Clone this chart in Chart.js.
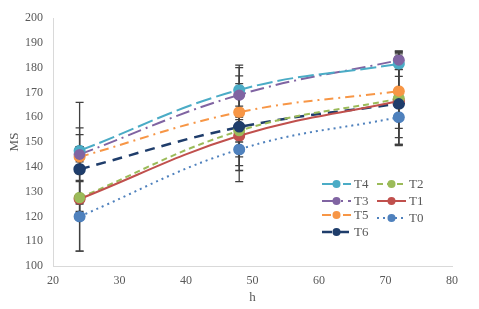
<!DOCTYPE html>
<html>
<head>
<meta charset="utf-8">
<script src="https://cdn.jsdelivr.net/npm/chart.js@4.4.1/dist/chart.umd.min.js"></script>
<style>
  html, body { margin: 0; padding: 0; background: #fff; }
  #wrap { width: 479px; height: 309px; }
</style>
</head>
<body>
<div id="wrap"><canvas id="myChart" width="479" height="309"></canvas></div>
<script>
// data
const hours = [24, 48, 72];
const t0 = [120, 147, 160];
const t1 = [127, 152.5, 166.5];
const t2 = [127.5, 154.5, 167.5];
const t3 = [145, 169, 183];
const t4 = [146.5, 171, 181.5];
const t5 = [144, 162, 170.5];
const t6 = [139, 156, 165.5];
// half-length of the error bars
const e0 = [14, 13, 11];
const e1 = [21, 12, 18];
const e2 = [7, 4.5, 18.5];
const e3 = [3, 7.7, 3.7];
const e4 = [9.2, 10, 5];
const e5 = [22, 18, 15];
const e6 = [14, 17.5, 13.7];
const yTicks = [100, 110, 120, 130, 140, 150, 160, 170, 180, 190, 200];
const xTicks = [20, 30, 40, 50, 60, 70, 80];

const serif = "'Liberation Serif', 'DejaVu Serif', serif";
const textColor = '#595959';

function makeSet(label, values, errs, color, dash, width) {
    return {
        label: label,
        data: hours.map((h, i) => ({ x: h, y: values[i] })),
        errs: errs,
        borderColor: color,
        backgroundColor: color,
        pointBackgroundColor: color,
        pointBorderColor: color,
        pointRadius: 5,
        pointHoverRadius: 5,
        borderWidth: width || 2,
        borderDash: dash,
        tension: 0.4,
        fill: false
    };
}

const sets = [
    makeSet('T0', t0, e0, '#4F81BD', [2, 4]),
    makeSet('T1', t1, e1, '#C0504D', []),
    makeSet('T2', t2, e2, '#9BBB59', [6, 4]),
    makeSet('T6', t6, e6, '#1F3D6B', [10, 7], 2.5),
    makeSet('T5', t5, e5, '#F79646', [9, 5, 2, 5]),
    makeSet('T4', t4, e4, '#4BACC6', [16, 5]),
    makeSet('T3', t3, e3, '#8064A2', [14, 5, 2, 5])
];

// error bars drawn with the scales, markers put back on top
const errorBars = {
    id: 'errorBars',
    afterDatasetsDraw(chart) {
        const ctx = chart.ctx;
        const xs = chart.scales.x, ys = chart.scales.y;
        ctx.save();
        ctx.strokeStyle = '#404040';
        ctx.lineWidth = 1.3;
        ctx.setLineDash([]);
        chart.data.datasets.forEach(ds => {
            ds.data.forEach((p, i) => {
                const px = xs.getPixelForValue(p.x);
                const top = ys.getPixelForValue(p.y + ds.errs[i]);
                const bot = ys.getPixelForValue(p.y - ds.errs[i]);
                ctx.beginPath();
                ctx.moveTo(px, top); ctx.lineTo(px, bot);
                ctx.moveTo(px - 4, top); ctx.lineTo(px + 4, top);
                ctx.moveTo(px - 4, bot); ctx.lineTo(px + 4, bot);
                ctx.stroke();
            });
        });
        ctx.restore();
        chart.data.datasets.forEach((ds, di) => {
            chart.getDatasetMeta(di).data.forEach(pt => {
                ctx.save();
                ctx.fillStyle = ds.pointBackgroundColor;
                ctx.beginPath();
                ctx.arc(pt.x, pt.y, 5.5, 0, Math.PI * 2);
                ctx.fill();
                ctx.restore();
            });
        });
    }
};

// two-column legend inside the plot, as in the reference
const legendSpots = [
    ['T4', 322, 184], ['T3', 322, 201], ['T5', 322, 215], ['T6', 322, 232],
    ['T2', 377, 184], ['T1', 377, 201], ['T0', 377, 218]
];
const boxLegend = {
    id: 'boxLegend',
    afterDraw(chart) {
        const ctx = chart.ctx;
        legendSpots.forEach(([name, x, y]) => {
            const ds = chart.data.datasets.find(d => d.label === name);
            ctx.save();
            ctx.strokeStyle = ds.borderColor;
            ctx.lineWidth = ds.borderWidth;
            ctx.setLineDash(ds.borderDash);
            ctx.beginPath();
            ctx.moveTo(x, y); ctx.lineTo(x + 29, y);
            ctx.stroke();
            ctx.fillStyle = ds.borderColor;
            ctx.beginPath();
            ctx.arc(x + 14.5, y, 4, 0, Math.PI * 2);
            ctx.fill();
            ctx.fillStyle = textColor;
            ctx.font = '13px ' + serif;
            ctx.textBaseline = 'middle';
            ctx.fillText(name, x + 32, y + 1);
            ctx.restore();
        });
    }
};

const ctx = document.getElementById('myChart').getContext('2d');
const myChart = new Chart(ctx, {
    type: 'line',
    data: { datasets: sets },
    options: {
        responsive: false,
        animation: false,
        layout: { padding: { left: 0, right: 27, top: 18, bottom: 0 } },
        plugins: { legend: { display: false }, tooltip: { enabled: false } },
        scales: {
            x: {
                type: 'linear',
                min: xTicks[0],
                max: xTicks[xTicks.length - 1],
                afterBuildTicks: s => { s.ticks = xTicks.map(v => ({ value: v })); },
                afterFit: s => { s.height = 43; },
                grid: { display: false, drawTicks: false },
                border: { color: '#d9d9d9', width: 1 },
                ticks: { color: textColor, font: { family: serif, size: 12 }, padding: 8, maxRotation: 0 },
                title: { display: true, text: 'h', color: textColor, font: { family: serif, size: 13 }, padding: { top: 2 } }
            },
            y: {
                min: yTicks[0],
                max: yTicks[yTicks.length - 1],
                afterBuildTicks: s => { s.ticks = yTicks.map(v => ({ value: v })); },
                afterFit: s => { s.width = 53; },
                grid: { display: false, drawTicks: false },
                border: { color: '#d9d9d9', width: 1 },
                ticks: { color: textColor, font: { family: serif, size: 12 }, padding: 10 },
                title: { display: true, text: 'MS', color: textColor, font: { family: serif, size: 13 }, padding: { top: 7, bottom: 0 } }
            }
        }
    },
    plugins: [errorBars, boxLegend]
});
</script>
</body>
</html>
